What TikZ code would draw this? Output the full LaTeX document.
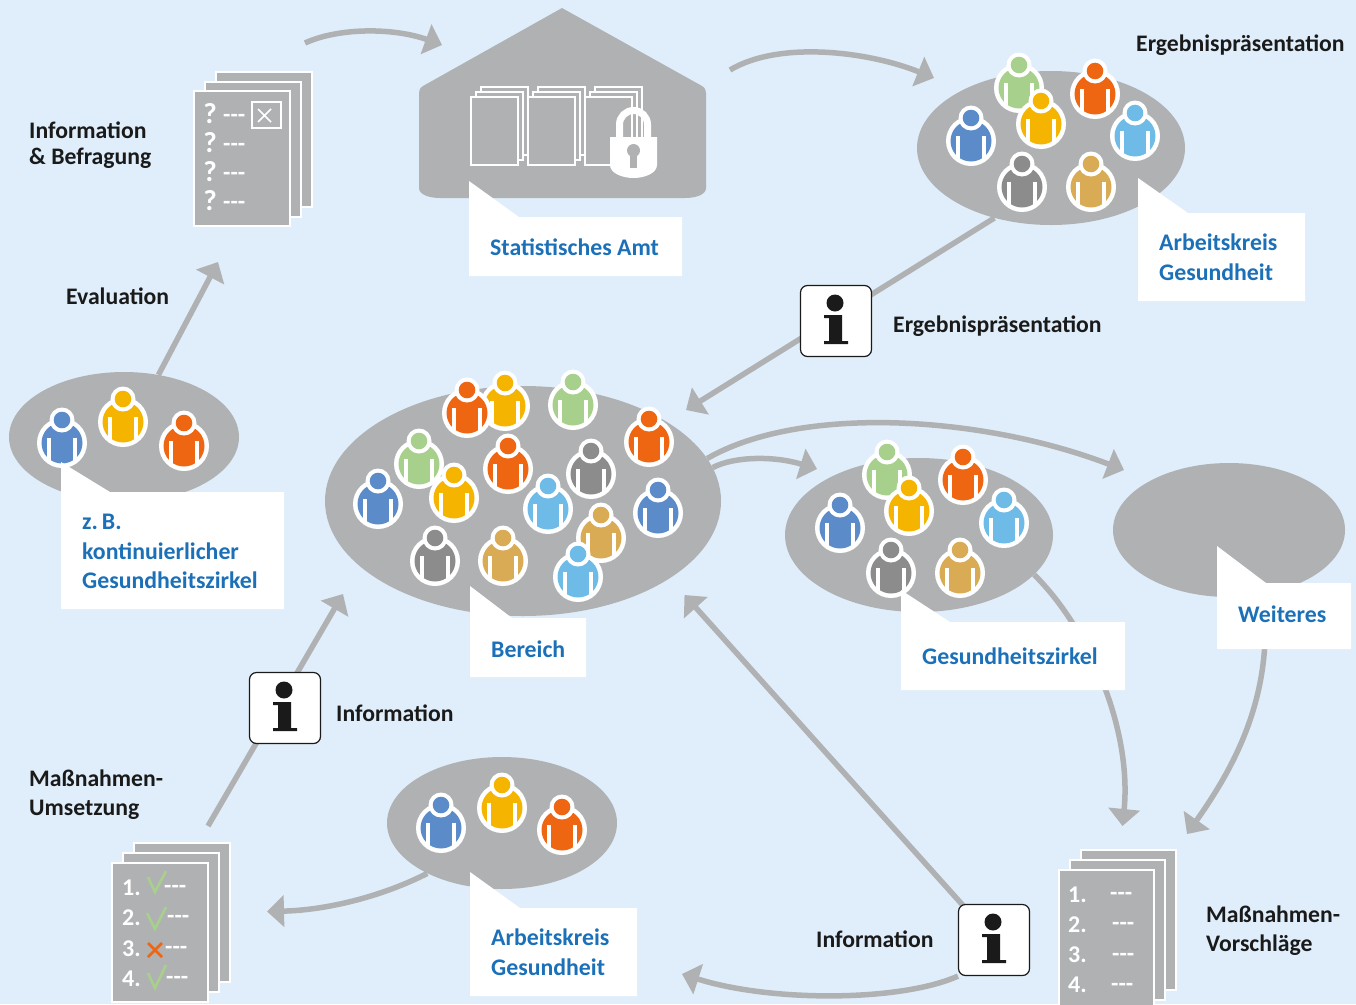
\documentclass[tikz,border=0pt]{standalone}
\usepackage{fontspec}
\setmainfont{Carlito}
\usetikzlibrary{shapes.geometric,arrows.meta,backgrounds,calc}
\definecolor{bgc}{HTML}{DFEEFA}
\definecolor{gr}{HTML}{B0B1B3}
\definecolor{bluetxt}{HTML}{1B70B8}
\definecolor{inkc}{HTML}{1A1A1A}
\definecolor{pblue}{HTML}{5B8BC9}
\definecolor{pyellow}{HTML}{F5B400}
\definecolor{porange}{HTML}{EE6512}
\definecolor{pgreen}{HTML}{A8D08D}
\definecolor{plight}{HTML}{6FBBE8}
\definecolor{pgray}{HTML}{8C8C8C}
\definecolor{ptan}{HTML}{D9AB55}
\tikzset{
  blob/.style={ellipse,fill=gr,inner sep=0pt},
  conn/.style={draw=gr,line width=5.5pt,-{Triangle[length=17pt,width=31pt,color=gr]}},
  labelbox/.style={fill=white},
  labeltxt/.style={inner sep=0pt,anchor=west,align=left,text=bluetxt,
    font=\fontsize{23.8}{29.7}\selectfont\bfseries},
  blacktxt/.style={inner sep=0pt,anchor=west,align=left,text=inkc,
    font=\fontsize{23.7}{29}\selectfont\bfseries},
  doctxt/.style={inner sep=0pt,text=white,font=\fontsize{24}{24}\selectfont\bfseries},
  qtxt/.style={inner sep=0pt,text=white,font=\fontsize{29}{29}\selectfont\bfseries},
  sheet/.style={fill=gr,draw=white,line width=2pt},
  infobox/.style={fill=white,draw=inkc,line width=1.2pt,rounded corners=7pt,minimum width=71pt,minimum height=71pt,inner sep=0pt},
}
\newcommand{\person}[3]{%
  \begin{scope}[shift={(#1,#2+1)}]
    \fill[white] (0,0) circle[radius=25pt];
    \fill[#3] (0,0) circle[radius=20.5pt];
    \fill[white] (0,-23) circle[radius=12.5pt];
    \fill[#3] (0,-23) circle[radius=8.3pt];
    \fill[white] (-15,-5) rectangle (-11,18);
    \fill[white] (11,-5) rectangle (15,18);
  \end{scope}}
\newcommand{\stack}[6]{%
  \draw[sheet] ({#1+2*#5},{#2+2*#6}) rectangle ({#1+#3+2*#5},{#2+#4+2*#6});
  \draw[sheet] ({#1+#5},{#2+#6}) rectangle ({#1+#3+#5},{#2+#4+#6});
  \draw[sheet] (#1,#2) rectangle ({#1+#3},{#2+#4});}
\newcommand{\infoicon}[2]{%
  \begin{scope}[shift={(#1,#2)}]
    \fill[inkc] (-1,-18) circle[radius=8.5pt];
    \fill[inkc] (-12,-6) -- (6,-6) -- (6,20) -- (12,20) -- (12,23) -- (-12,23) -- (-12,20) -- (-7,20) -- (-7,-3) -- (-12,-3) -- cycle;
  \end{scope}}
% callout: left, top, right, bottom, tip y, tip foot x
\newcommand{\callout}[6]{%
  \fill[labelbox] (#1,#5) -- (#6,#2) -- (#3,#2) -- (#3,#4) -- (#1,#4) -- cycle;}
\begin{document}
\begin{tikzpicture}[x=1pt,y=-1pt]
\useasboundingbox (0,0) rectangle (1356,1004);
\clip (0,0) rectangle (1356,1004);
% free ends
\coordinate (p1a) at (305,43);
\coordinate (p1b) at (442,45);
\coordinate (p2a) at (730,70);
\coordinate (p2b) at (934,78);
\coordinate (tipRes) at (686,410);
\coordinate (tipEval) at (218,262);
\coordinate (tipZirk) at (817,469);
\coordinate (tipWeit) at (1124,470);
\coordinate (startWeit) at (1265,640);
\coordinate (tipVorA) at (1122.5,826);
\coordinate (tipVorB) at (1187,834);
\coordinate (tipInfo) at (684.5,595);
\coordinate (tipInfoB) at (682,974);
\coordinate (startUms) at (208,826);
\coordinate (tipUms) at (343,594);
\coordinate (tipAk) at (267,911.5);
% blobs
\node[blob,minimum width=268pt,minimum height=154pt] (elTR) at (1051,148) {};
\node[blob,minimum width=230pt,minimum height=130pt] (elL) at (124,437) {};
\node[blob,minimum width=396pt,minimum height=230pt] (elM) at (523,501) {};
\node[blob,minimum width=268pt,minimum height=154pt] (elZ) at (919,535) {};
\node[blob,minimum width=232pt,minimum height=134pt] (elW) at (1229,530) {};
\node[blob,minimum width=230pt,minimum height=132pt] (elB) at (502,823) {};
% house
\fill[gr] (562,8) -- (702,86) .. controls (705,88) and (706,90) .. (706,93) -- (706,188) .. controls (706,195) and (695,198) .. (685,198) -- (440,198) .. controls (430,198) and (419,195) .. (419,188) -- (419,93) .. controls (419,90) and (420,88) .. (423,86) -- cycle;
% people
\person{62}{442}{pblue}\person{123}{421}{pyellow}\person{184}{445}{porange}
\person{505}{405}{pyellow}\person{467}{412}{porange}\person{573}{404}{pgreen}
\person{649}{441}{porange}\person{419}{463}{pgreen}\person{508}{468}{porange}
\person{591}{473}{pgray}\person{454}{497}{pyellow}\person{378}{503}{pblue}
\person{601}{537}{ptan}\person{548}{508}{plight}\person{658}{512}{pblue}
\person{435}{560}{pgray}\person{503}{560}{ptan}\person{578}{576}{plight}
\person{1019}{87}{pgreen}\person{1095}{93}{porange}\person{1041}{123}{pyellow}
\person{1135}{135}{plight}\person{971}{140}{pblue}\person{1022}{186}{pgray}\person{1091}{186}{ptan}
\person{887}{474}{pgreen}\person{963}{479}{porange}\person{909}{510}{pyellow}
\person{1004}{522}{plight}\person{840}{527}{pblue}\person{891}{572}{pgray}\person{960}{572}{ptan}
\person{441}{827}{pblue}\person{502}{807}{pyellow}\person{562}{829}{porange}
% callouts
\callout{469}{217}{682}{276}{181}{519}
\callout{1138}{213}{1305}{301}{178}{1188}
\callout{61}{492}{284}{609}{462}{110}
\callout{470}{618}{586}{677}{586}{512}
\callout{901}{622}{1125}{690}{590}{950}
\callout{1217}{583}{1351}{649}{546}{1266}
\callout{470}{908}{637}{996}{872}{520}
% label texts
\node[labeltxt] (lbAmt) at (490,247) {Statistisches Amt};
\node[labeltxt] (lbAk1) at (1159,257.5) {Arbeitskreis\\Gesundheit};
\node[labeltxt] (lbZB) at (82,551.5) {z.\,B.\\kontinuierlicher\\Gesundheitszirkel};
\node[labeltxt] (lbBer) at (491,649) {Bereich};
\node[labeltxt] (lbGz) at (922,656) {Gesundheitszirkel};
\node[labeltxt] (lbWeit) at (1238,614) {Weiteres};
\node[labeltxt] (lbAk2) at (491,952.5) {Arbeitskreis\\Gesundheit};
% info
\node[infobox] (infoA) at (836,321) {};
\node[infobox] (infoB) at (285,708) {};
\node[infobox] (infoC) at (994,940) {};
\infoicon{836}{321}\infoicon{285}{708}\infoicon{994}{940}
% connectors, behind everything
\begin{scope}[on background layer]
  \fill[bgc] (0,0) rectangle (1356,1004);
  \draw[conn] (p1a) .. controls (340,27) and (395,28) .. (p1b);
  \draw[conn] (p2a) .. controls (780,40) and (870,52) .. (p2b);
  \draw[conn] (elTR.231.3) -- (tipRes);
  \draw[conn] (elL.61) -- (tipEval);
  \draw[conn] (elM.10.6) .. controls (735,456) and (775,456) .. (tipZirk);
  \draw[conn] (elM.13.7) .. controls (800,405) and (980,415) .. (tipWeit);
  \draw[conn] (elZ.-19) .. controls (1090,630) and (1132,730) .. (tipVorA);
  \draw[conn] (startWeit) .. controls (1262,720) and (1225,780) .. (tipVorB);
  \draw[conn] (infoC.center) -- (tipInfo);
  \draw[conn] (infoC.south west) .. controls (900,1002) and (770,1002) .. (tipInfoB);
  \draw[conn] (startUms) -- (tipUms);
  \draw[conn] (elB.214.8) .. controls (385,895) and (330,910) .. (tipAk);
\end{scope}
% black texts
\node[blacktxt,font=\fontsize{23.7}{26}\selectfont\bfseries] (tInfoBef) at (29,145) {Information\\\& Befragung};
\node[blacktxt] (tEval) at (66,296) {Evaluation};
\node[blacktxt] (tErg1) at (1136,45.5) {Ergebnispräsentation};
\node[blacktxt] (tErg2) at (893,326.5) {Ergebnispräsentation};
\node[blacktxt] (tInfo1) at (336,713) {Information};
\node[blacktxt] (tInfo2) at (816,939) {Information};
\node[blacktxt] (tUms) at (29,795) {Maßnahmen-\\Umsetzung};
\node[blacktxt] (tVor) at (1206,931) {Maßnahmen-\\Vorschläge};
% questionnaire stack
\stack{194}{91}{96}{135}{11}{-9.5}
\draw[white,line width=2pt] (252,102) rectangle (281,128);
\draw[white,line width=1.5pt] (258,109) -- (271,122) (271,109) -- (258,122);
\foreach \yy/\nm in {115/a,144/b,173/c,202/d}{
  \node[qtxt] (q\nm) at (210,\yy-1) {?};
  \node[doctxt,anchor=west] (qd\nm) at (223,\yy+3) {-{}-{}-};
}
% house documents
\foreach \xx in {471,528,585}{
  \begin{scope}[line width=1.7pt]
    \draw[fill=gr,draw=white] ({\xx+10},87) rectangle ({\xx+57},155);
    \draw[fill=gr,draw=white] ({\xx+5},92) rectangle ({\xx+52},160);
    \draw[fill=gr,draw=white] (\xx,97) rectangle ({\xx+47},165);
  \end{scope}
}
\draw[white,line width=7pt] (619.5,140) -- (619.5,124.5) arc[start angle=180,end angle=360,radius=14] -- (647.5,140);
\fill[white] (610,137) -- (657,137) -- (657,165) .. controls (657,173) and (645,178) .. (633.5,178) .. controls (622,178) and (610,173) .. (610,165) -- cycle;
\fill[gr] (633.5,150.5) circle[radius=6.5pt];
\fill[gr] (630,151) rectangle (637,168);
% Umsetzung stack
\stack{112}{863}{96}{139}{11}{-10}
\foreach \yy/\nm in {888/1,918/2,949/3,979/4}{
  \node[doctxt,anchor=west] (u\nm) at (122,\yy) {\nm.};
}
\node[doctxt,anchor=west] (ud1) at (164,889) {-{}-{}-};
\node[doctxt,anchor=west] (ud2) at (167,919) {-{}-{}-};
\node[doctxt,anchor=west] (ud3) at (165,950) {-{}-{}-};
\node[doctxt,anchor=west] (ud4) at (166,980) {-{}-{}-};
\draw[pgreen,line width=2.6pt] (148,877) -- (155,892) -- (166,871);
\draw[pgreen,line width=2.6pt] (147,913) -- (155,929) -- (166,907);
\draw[pgreen,line width=2.6pt] (148,973) -- (155,988) -- (166,965);
\draw[porange,line width=2.6pt] (148,943) -- (162,957) (162,943) -- (148,957);
% Vorschlaege stack
\stack{1059}{870}{95}{140}{11}{-10}
\foreach \yy/\nm in {895/1,925/2,955/3,985/4}{
  \node[doctxt,anchor=west] (v\nm) at (1068,\yy) {\nm.};
}
\node[doctxt,anchor=west] (vd1) at (1110,896) {-{}-{}-};
\node[doctxt,anchor=west] (vd2) at (1112,926) {-{}-{}-};
\node[doctxt,anchor=west] (vd3) at (1112,957) {-{}-{}-};
\node[doctxt,anchor=west] (vd4) at (1111,987) {-{}-{}-};
\end{tikzpicture}
\end{document}
